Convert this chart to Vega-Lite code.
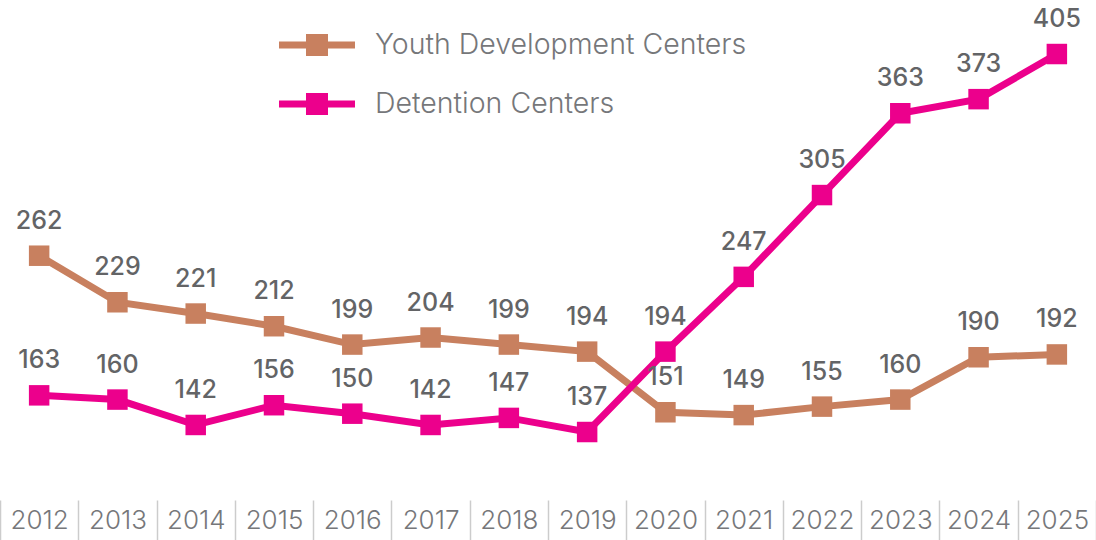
{
  "$schema": "https://vega.github.io/schema/vega-lite/v6.json",
  "width": 1096,
  "height": 500,
  "padding": {"left": 0, "right": 0, "top": 0, "bottom": 40},
  "autosize": {"type": "none"},
  "background": "white",
  "config": {"view": {"stroke": null}, "font": "Inter"},
  "data": {"values": [
    {"year": "2012", "series": "Youth Development Centers", "value": 262},
    {"year": "2013", "series": "Youth Development Centers", "value": 229},
    {"year": "2014", "series": "Youth Development Centers", "value": 221},
    {"year": "2015", "series": "Youth Development Centers", "value": 212},
    {"year": "2016", "series": "Youth Development Centers", "value": 199},
    {"year": "2017", "series": "Youth Development Centers", "value": 204},
    {"year": "2018", "series": "Youth Development Centers", "value": 199},
    {"year": "2019", "series": "Youth Development Centers", "value": 194},
    {"year": "2020", "series": "Youth Development Centers", "value": 151},
    {"year": "2021", "series": "Youth Development Centers", "value": 149},
    {"year": "2022", "series": "Youth Development Centers", "value": 155},
    {"year": "2023", "series": "Youth Development Centers", "value": 160},
    {"year": "2024", "series": "Youth Development Centers", "value": 190},
    {"year": "2025", "series": "Youth Development Centers", "value": 192},
    {"year": "2012", "series": "Detention Centers", "value": 163},
    {"year": "2013", "series": "Detention Centers", "value": 160},
    {"year": "2014", "series": "Detention Centers", "value": 142},
    {"year": "2015", "series": "Detention Centers", "value": 156},
    {"year": "2016", "series": "Detention Centers", "value": 150},
    {"year": "2017", "series": "Detention Centers", "value": 142},
    {"year": "2018", "series": "Detention Centers", "value": 147},
    {"year": "2019", "series": "Detention Centers", "value": 137},
    {"year": "2020", "series": "Detention Centers", "value": 194},
    {"year": "2021", "series": "Detention Centers", "value": 247},
    {"year": "2022", "series": "Detention Centers", "value": 305},
    {"year": "2023", "series": "Detention Centers", "value": 363},
    {"year": "2024", "series": "Detention Centers", "value": 373},
    {"year": "2025", "series": "Detention Centers", "value": 405}
  ]},
  "encoding": {
    "x": {
      "field": "year", "type": "ordinal",
      "scale": {"type": "band", "paddingInner": 0, "paddingOuter": 0},
      "axis": {
        "title": null, "domain": false, "labelAngle": 0, "tickBand": "extent",
        "tickSize": 40, "tickColor": "#cccccc", "tickWidth": 1.5,
        "labelPadding": -20, "labelBaseline": "middle", "labelFontSize": 26,
        "labelFontWeight": 300, "labelColor": "#76777a", "grid": false
      }
    },
    "y": {
      "field": "value", "type": "quantitative",
      "scale": {"domain": [88.8, 443.3], "nice": false, "zero": false},
      "axis": null
    },
    "color": {
      "field": "series", "type": "nominal",
      "scale": {"domain": ["Youth Development Centers", "Detention Centers"], "range": ["#C8805F", "#EC008C"]},
      "legend": {
        "orient": "none", "legendX": 288.5, "legendY": 16.5, "title": null, "padding": 0,
        "symbolType": "M-1.333,-0.123H1.333V0.123H-1.333Z M-0.386,-0.386H0.386V0.386H-0.386Z",
        "symbolSize": 3249, "symbolStrokeWidth": 0,
        "labelFontSize": 28.5, "labelFontWeight": 300, "labelColor": "#76777a", "labelOffset": 29.5,
        "rowPadding": 16, "labelLimit": 600,
        "encode": {"symbols": {"update": {"fill": {"scale": "color", "field": "value"}, "fillOpacity": {"value": 1}, "strokeWidth": {"value": 0}}}}
      }
    }
  },
  "layer": [
    {"mark": {"type": "line", "strokeWidth": 7}},
    {"mark": {"type": "square", "size": 420, "filled": true, "opacity": 1}},
    {
      "mark": {"type": "text", "dy": -35, "fontSize": 25, "fontWeight": 500, "baseline": "middle"},
      "encoding": {"text": {"field": "value", "type": "quantitative"}, "color": {"value": "#636466"}}
    }
  ]
}
